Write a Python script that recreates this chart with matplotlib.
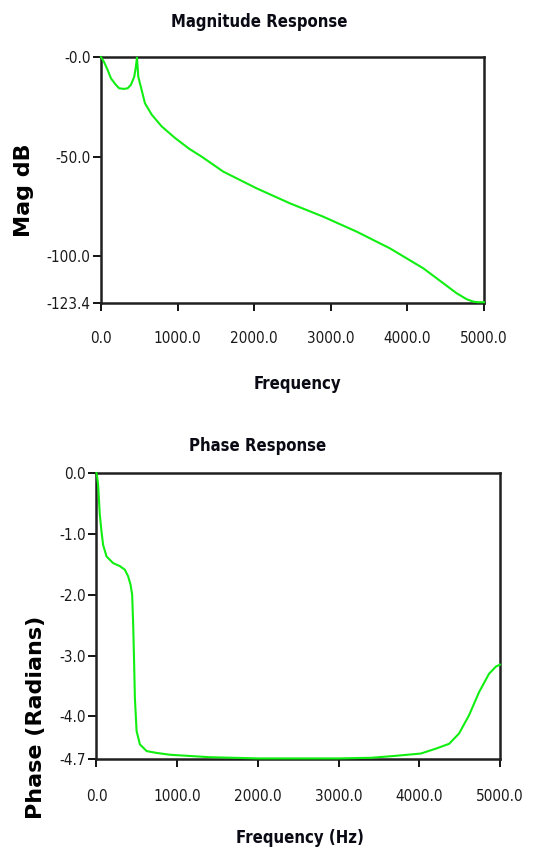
import matplotlib
matplotlib.use("Agg")
import matplotlib.pyplot as plt

# magnitude response (Hz, dB)
mag_freq = [0, 40, 87, 130, 195, 238, 300, 347, 390, 434, 455, 470, 487, 531, 574,
            662, 792, 966, 1150, 1315, 1597, 2033, 2467, 2902, 3338, 3773, 4208,
            4469, 4643, 4774, 4860, 4920, 5000]
mag_db = [0, -2.5, -6.5, -10.7, -14.0, -15.7, -16.0, -15.7, -14.0, -9.9, -5.0, -0.3,
          -9.9, -16.6, -23.2, -28.9, -34.8, -40.6, -46.0, -50.0, -57.5, -65.9, -73.4,
          -80.1, -87.6, -96.0, -106.0, -113.5, -118.5, -121.5, -122.7, -123.0, -123.0]

# phase response (Hz, radians)
ph_freq = [0, 7, 20, 41, 62, 82, 124, 206, 290, 352, 393, 423, 442, 455, 467, 476,
           497, 538, 622, 746, 912, 1400, 2000, 3000, 3400, 3687, 4019, 4205, 4370,
           4493, 4617, 4741, 4864, 4950, 5000]
ph_rad = [0, -0.05, -0.19, -0.68, -0.96, -1.18, -1.37, -1.48, -1.53, -1.59, -1.70,
          -1.84, -2.0, -2.5, -3.15, -3.7, -4.24, -4.46, -4.57, -4.60, -4.63, -4.67,
          -4.69, -4.69, -4.68, -4.65, -4.61, -4.53, -4.45, -4.28, -3.98, -3.60,
          -3.30, -3.18, -3.15]

x_ticks = [0, 1000, 2000, 3000, 4000, 5000]
x_labels = ["0.0", "1000.0", "2000.0", "3000.0", "4000.0", "5000.0"]
mag_ticks = [0, -50, -100, -123.4]
mag_labels = ["-0.0", "-50.0", "-100.0", "-123.4"]
ph_ticks = [0, -1, -2, -3, -4, -4.7]
ph_labels = ["0.0", "-1.0", "-2.0", "-3.0", "-4.0", "-4.7"]

green = "#11ee11"
tick_font = dict(family="DejaVu Sans", stretch="condensed", size=11, color="#1a1a1a")
title_font = dict(family="DejaVu Sans", stretch="condensed", size=12, weight="bold",
                  color="#0a0a14")
ylab_font = dict(family="DejaVu Sans", size=16, weight="bold", color="black")

fig = plt.figure(figsize=(5.36, 8.56), dpi=100)


def style(ax, xt, xl, yt, yl, xpad):
    ax.set_xticks(xt)
    ax.set_xticklabels(xl, fontdict=tick_font)
    ax.set_yticks(yt)
    ax.set_yticklabels(yl, fontdict=tick_font)
    ax.tick_params(direction="out", length=5.5, width=1.3)
    ax.tick_params(axis="x", pad=xpad)
    ax.tick_params(axis="y", pad=2)
    for s in ax.spines.values():
        s.set_linewidth(1.8)
        s.set_color("#202020")


# top: magnitude
ax1 = fig.add_axes([0.1884, 0.646, 0.7146, 0.2874])
ax1.plot(mag_freq, mag_db, color=green, lw=1.5, clip_on=False, zorder=5)
ax1.set_xlim(0, 5000)
ax1.set_ylim(-123.4, 0)
style(ax1, x_ticks, x_labels, mag_ticks, mag_labels, 15)
ax1.set_title("Magnitude Response", x=0.4125, y=1.142, pad=0, va="center", **title_font)
ax1.set_xlabel("Frequency", va="center", **title_font)
ax1.xaxis.set_label_coords(0.513, -0.329)
ax1.set_ylabel("Mag dB", va="center", **ylab_font)
ax1.yaxis.set_label_coords(-0.201, 0.459)

# bottom: phase
ax2 = fig.add_axes([0.180, 0.1133, 0.7528, 0.3341])
ax2.plot(ph_freq, ph_rad, color=green, lw=1.5, clip_on=False, zorder=5)
ax2.set_xlim(0, 5000)
ax2.set_ylim(-4.7, 0)
style(ax2, x_ticks, x_labels, ph_ticks, ph_labels, 16)
ax2.set_title("Phase Response", x=0.400, y=1.094, pad=0, va="center", **title_font)
ax2.set_xlabel("Frequency (Hz)", va="center", **title_font)
ax2.xaxis.set_label_coords(0.504, -0.276)
ax2.set_ylabel("Phase (Radians)", va="center", **ylab_font)
ax2.yaxis.set_label_coords(-0.150, 0.147)

fig.savefig("out.png", dpi=100)
